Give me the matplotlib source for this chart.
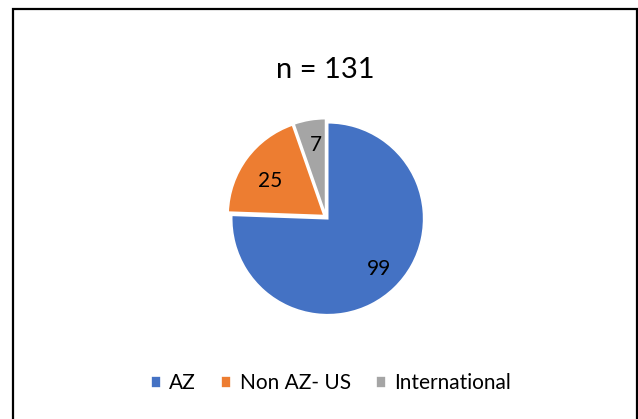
import matplotlib
matplotlib.use("Agg")
import matplotlib.pyplot as plt
from matplotlib.patches import Rectangle

# Chart data
labels = ["AZ", "Non AZ- US", "International"]
counts = [99, 25, 7]
colors = ["#4472C4", "#ED7D31", "#A5A5A5"]
title = "n = 131"

plt.rcParams['font.family'] = ['Lato', 'DejaVu Sans']

W, H = 638, 419
fig = plt.figure(figsize=(W / 100, H / 100), dpi=100)

# chart area border (bottom runs off the image)
fig.patches.append(Rectangle((13 / W, -0.02), 624 / W, 1 - 9 / H + 0.02,
                             transform=fig.transFigure, fill=False,
                             edgecolor="black", linewidth=1.6))

# pie axes: centre (327, 217), radius ~96 px
r = 96
cx, cy = 326, 217
ax = fig.add_axes([(cx - r) / W, 1 - (cy + r) / H, 2 * r / W, 2 * r / H])
wedges, texts = ax.pie(counts, colors=colors, startangle=90, counterclock=False,
                       explode=[0.025, 0.025, 0.025],
                       wedgeprops=dict(edgecolor="white", linewidth=1.2))
ax.set_xlim(-1, 1)
ax.set_ylim(-1, 1)
ax.set_aspect("equal")
ax.axis("off")

# data labels
label_pos = [(0.55, -0.54), (-0.58, 0.37), (-0.11, 0.75)]
for (x, y), c in zip(label_pos, counts):
    ax.text(x, y, str(c), ha="center", va="center", fontsize=15, color="black")

fig.text(325 / W, 1 - 70 / H, title, ha="center", va="center", fontsize=21)

leg = fig.legend(wedges, labels, loc="center", bbox_to_anchor=(331 / W, 1 - 383 / H),
                 ncol=3, frameon=False, fontsize=15, handlelength=0.5,
                 handleheight=0.5, handletextpad=0.4, columnspacing=1.2)

fig.savefig("out.png", dpi=100)
